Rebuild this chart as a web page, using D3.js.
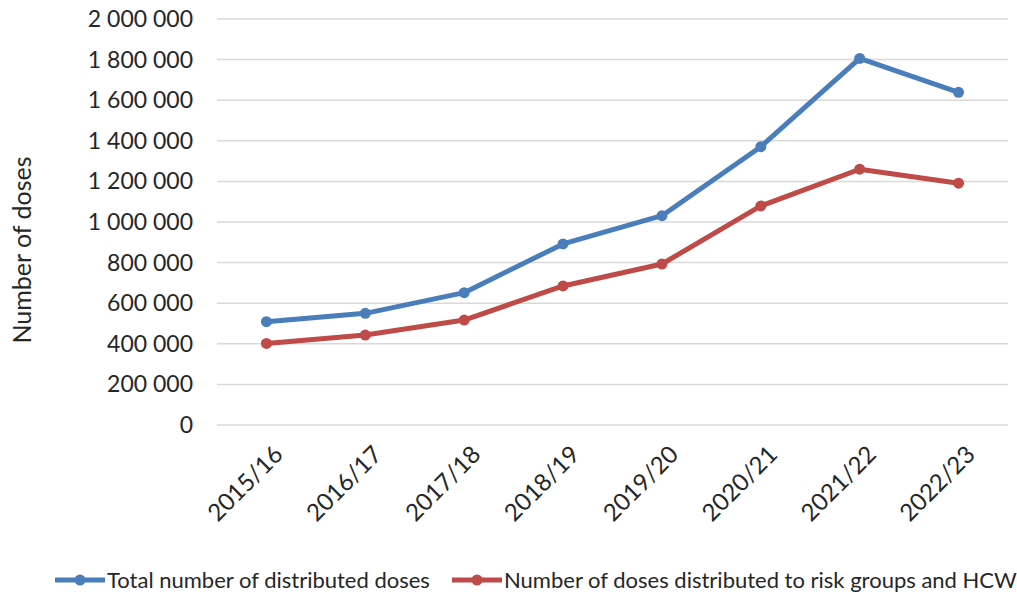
<!DOCTYPE html>
<html>
<head>
<meta charset="utf-8">
<script src="https://cdn.jsdelivr.net/npm/d3@7"></script>
<style>
  body { margin: 0; background: #fff; }
  text { font-family: Lato, "Open Sans", sans-serif; fill: #262626; }
</style>
</head>
<body>
<div id="chart"></div>
<script>
const seasons = ["2015/16", "2016/17", "2017/18", "2018/19", "2019/20", "2020/21", "2021/22", "2022/23"];
const totalDoses = [509000, 550000, 652000, 892000, 1031000, 1371000, 1806000, 1639000];
const riskGroupDoses = [402000, 443000, 517000, 685000, 793000, 1079000, 1260000, 1191000];
const yTicks = [0, 200000, 400000, 600000, 800000, 1000000, 1200000, 1400000, 1600000, 1800000, 2000000];
const seriesNames = ["Total number of distributed doses", "Number of doses distributed to risk groups and HCW"];
const seriesColors = ["#4a7ebb", "#be4b48"];

const W = 1017, H = 592;
const margin = { top: 19, right: 9, bottom: 167, left: 217 };
const width = W - margin.left - margin.right;
const height = H - margin.top - margin.bottom;

const svg = d3.select("#chart")
  .append("svg")
  .attr("width", W)
  .attr("height", H)
  .append("g")
  .attr("transform", `translate(${margin.left},${margin.top})`);

const x = d3.scaleBand().domain(seasons).range([0, width]);
const y = d3.scaleLinear().domain([0, 2000000]).range([height, 0]);

const fmt = v => d3.format(",")(v).replace(/,/g, " ");

// gridlines
svg.append("g")
  .selectAll("line")
  .data(yTicks)
  .enter()
  .append("line")
  .attr("x1", 0)
  .attr("x2", width)
  .attr("y1", d => y(d))
  .attr("y2", d => y(d))
  .attr("stroke", "#d9d9d9")
  .attr("stroke-width", 1.5);

// y tick labels
svg.append("g")
  .selectAll("text")
  .data(yTicks)
  .enter()
  .append("text")
  .attr("x", -24)
  .attr("y", d => y(d))
  .attr("dy", "0.35em")
  .attr("text-anchor", "end")
  .style("font-size", "23px")
  .text(d => fmt(d));

// y axis title
svg.append("text")
  .attr("transform", "rotate(-90)")
  .attr("x", -(y(1000000) + 28))
  .attr("y", -186)
  .attr("text-anchor", "middle")
  .style("font-size", "25px")
  .text("Number of doses");

// x labels
svg.append("g")
  .selectAll("text")
  .data(seasons)
  .enter()
  .append("text")
  .attr("transform", d => `translate(${x(d) + x.bandwidth() / 2 + 12},${height + 25}) rotate(-45)`)
  .attr("text-anchor", "end")
  .attr("dy", "0.35em")
  .style("font-size", "24px")
  .text(d => d);

const line = d3.line()
  .x((d, i) => x(seasons[i]) + x.bandwidth() / 2)
  .y(d => y(d));

[totalDoses, riskGroupDoses].forEach((vals, k) => {
  svg.append("path")
    .datum(vals)
    .attr("fill", "none")
    .attr("stroke", seriesColors[k])
    .attr("stroke-width", 5)
    .attr("stroke-linejoin", "round")
    .attr("d", line);

  svg.append("g")
    .selectAll("circle")
    .data(vals)
    .enter()
    .append("circle")
    .attr("cx", (d, i) => x(seasons[i]) + x.bandwidth() / 2)
    .attr("cy", d => y(d))
    .attr("r", 5.5)
    .attr("fill", seriesColors[k]);
});

// legend
const legendX = [-162, 235];
const legend = svg.append("g")
  .attr("transform", `translate(0,${height + 155})`);

seriesNames.forEach((name, k) => {
  const g = legend.append("g").attr("transform", `translate(${legendX[k]},0)`);
  g.append("line")
    .attr("x1", 0).attr("x2", 50)
    .attr("stroke", seriesColors[k])
    .attr("stroke-width", 5);
  g.append("circle")
    .attr("cx", 25).attr("r", 5.5)
    .attr("fill", seriesColors[k]);
  g.append("text")
    .attr("x", 52)
    .attr("dy", "0.35em")
    .style("font-size", "22px")
    .text(name);
});
</script>
</body>
</html>
